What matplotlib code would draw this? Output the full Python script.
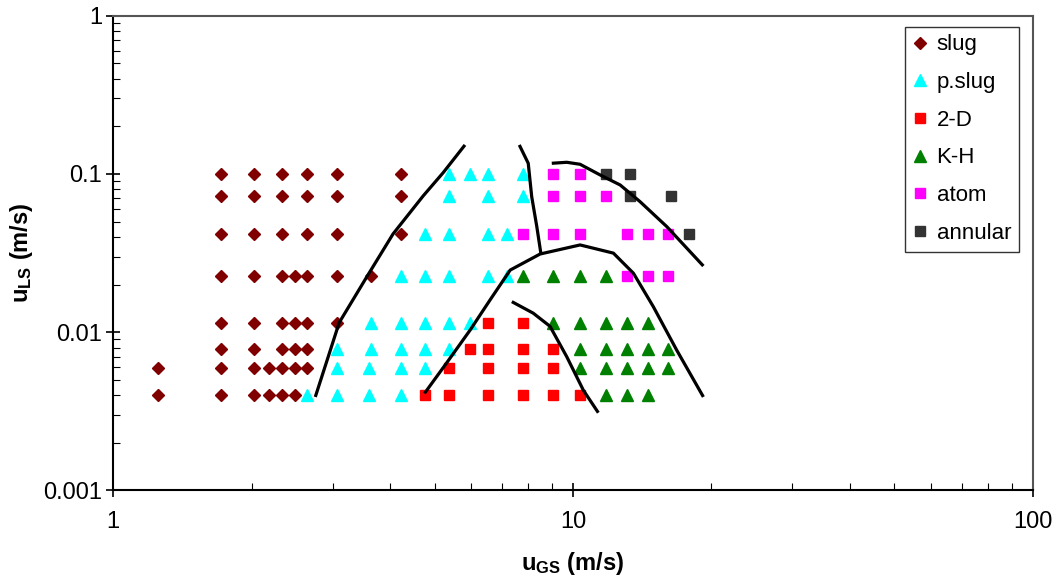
import numpy as np
import matplotlib
matplotlib.use('Agg')
import matplotlib.pyplot as plt
from matplotlib.ticker import FixedLocator, FixedFormatter, LogLocator, NullFormatter

plt.rcParams['font.family'] = ['Liberation Sans', 'DejaVu Sans']
plt.rcParams['mathtext.fontset'] = 'custom'
plt.rcParams['mathtext.rm'] = 'Liberation Sans'
plt.rcParams['mathtext.bf'] = 'Liberation Sans:bold'

# flow regime data: (u_GS, u_LS) pairs in m/s, grouped per u_LS row
slug_x = [1.715, 2.02, 2.33, 2.635, 3.06, 4.23,
          1.715, 2.02, 2.33, 2.635, 3.06, 4.23,
          1.715, 2.02, 2.33, 2.635, 3.06, 4.23,
          1.715, 2.02, 2.33, 2.49, 2.635, 3.06, 3.64,
          1.715, 2.02, 2.33, 2.49, 2.635, 3.06,
          1.715, 2.02, 2.33, 2.49, 2.635,
          1.25, 1.715, 2.02, 2.18, 2.33, 2.49, 2.635,
          1.25, 1.715, 2.02, 2.18, 2.33, 2.49]
slug_y = [0.1] * 6 + [0.073] * 6 + [0.042] * 6 + [0.0225] * 7 + [0.0115] * 6 + \
         [0.0078] * 5 + [0.0059] * 7 + [0.004] * 6

pslug_x = [5.37, 5.97, 6.53, 7.79,
           5.37, 6.53, 7.79,
           4.76, 5.37, 6.53, 7.19,
           4.23, 4.76, 5.37, 6.53, 7.19,
           3.64, 4.23, 4.76, 5.37, 5.97,
           3.06, 3.64, 4.23, 4.76, 5.37,
           3.06, 3.6, 4.23, 4.76,
           2.635, 3.06, 3.6, 4.23]
pslug_y = [0.1] * 4 + [0.073] * 3 + [0.042] * 4 + [0.0225] * 5 + [0.0115] * 5 + \
          [0.0078] * 5 + [0.0059] * 4 + [0.004] * 4

twod_x = [6.53, 7.79,
          5.97, 6.53, 7.79, 9.05,
          5.37, 6.53, 7.79, 9.05,
          4.76, 5.37, 6.53, 7.79, 9.05, 10.38]
twod_y = [0.0115] * 2 + [0.0078] * 4 + [0.0059] * 4 + [0.004] * 6

kh_x = [7.79, 9.05, 10.38, 11.8,
        9.05, 10.38, 11.8, 13.08, 14.59,
        10.38, 11.8, 13.08, 14.59, 16.13,
        10.38, 11.8, 13.08, 14.59, 16.13,
        11.8, 13.08, 14.59]
kh_y = [0.0225] * 4 + [0.0115] * 5 + [0.0078] * 5 + [0.0059] * 5 + [0.004] * 3

atom_x = [9.05, 10.38,
          9.05, 10.38, 11.8,
          7.79, 9.05, 10.38, 13.08, 14.59, 16.13,
          13.08, 14.59, 16.13]
atom_y = [0.1] * 2 + [0.073] * 3 + [0.042] * 6 + [0.0225] * 3

annular_x = [11.8, 13.31, 13.31, 16.34, 17.85]
annular_y = [0.1, 0.1, 0.073, 0.073, 0.042]

# hand-drawn transition boundaries
b1_x = [2.75, 2.92, 3.10, 3.56, 4.06, 4.72, 5.22, 5.82]
b1_y = [0.0039, 0.0067, 0.0115, 0.0224, 0.0418, 0.0726, 0.102, 0.1525]
b2_x = [7.64, 7.99, 8.13, 8.34, 8.51]
b2_y = [0.1525, 0.1168, 0.0719, 0.0465, 0.0316]
b3_x = [4.75, 5.31, 5.97, 6.60, 7.30, 8.48, 10.36, 12.24, 13.53, 14.95, 16.81, 19.21]
b3_y = [0.0041, 0.0064, 0.0103, 0.016, 0.0247, 0.0312, 0.0356, 0.0316, 0.0236, 0.0145, 0.0077, 0.0039]
b4_x = [7.36, 8.19, 8.91, 9.69, 10.53, 11.35]
b4_y = [0.0156, 0.0132, 0.0109, 0.0070, 0.0043, 0.0031]
b5_x = [8.99, 9.69, 10.36, 11.45, 12.66, 13.99, 15.99, 19.21]
b5_y = [0.1168, 0.1185, 0.1151, 0.0986, 0.0852, 0.0668, 0.0465, 0.0262]

fig = plt.figure(figsize=(10.56, 5.81), dpi=100)
ax = fig.add_axes([0.1073, 0.1558, 0.8707, 0.8172])

for bx, by in [(b1_x, b1_y), (b2_x, b2_y), (b3_x, b3_y), (b4_x, b4_y), (b5_x, b5_y)]:
    ax.plot(bx, by, color='black', linewidth=2.3, zorder=3, solid_capstyle='butt')

ax.plot(slug_x, slug_y, 'D', color='#800000', markersize=6, label='slug', zorder=2)
ax.plot(pslug_x, pslug_y, '^', color='#00FFFF', markersize=8, label='p.slug', zorder=2)
ax.plot(twod_x, twod_y, 's', color='#FF0000', markersize=6.5, label='2-D', zorder=2)
ax.plot(kh_x, kh_y, '^', color='#008000', markersize=8, label='K-H', zorder=2)
ax.plot(atom_x, atom_y, 's', color='#FF00FF', markersize=6.5, label='atom', zorder=2)
ax.plot(annular_x, annular_y, 's', color='#333333', markersize=6.5, label='annular', zorder=2)

ax.set_xscale('log')
ax.set_yscale('log')
ax.set_xlim(1, 100)
ax.set_ylim(0.001, 1)

ax.xaxis.set_major_locator(FixedLocator([1, 10, 100]))
ax.xaxis.set_major_formatter(FixedFormatter(['1', '10', '100']))
ax.yaxis.set_major_locator(FixedLocator([0.001, 0.01, 0.1, 1]))
ax.yaxis.set_major_formatter(FixedFormatter(['0.001', '0.01', '0.1', '1']))
ax.xaxis.set_minor_locator(LogLocator(base=10, subs=np.arange(2, 10)))
ax.yaxis.set_minor_locator(LogLocator(base=10, subs=np.arange(2, 10)))
ax.xaxis.set_minor_formatter(NullFormatter())
ax.yaxis.set_minor_formatter(NullFormatter())

ax.tick_params(which='major', direction='inout', length=10, width=1.2, labelsize=17, colors='black')
ax.tick_params(axis='x', which='major', pad=10)
ax.tick_params(axis='y', which='major', pad=3)
ax.tick_params(which='minor', direction='in', length=5, width=0.8)
ax.tick_params(top=False, right=False, which='both')

for s in ['left', 'bottom']:
    ax.spines[s].set_color('black')
    ax.spines[s].set_linewidth(1.5)
for s in ['top', 'right']:
    ax.spines[s].set_color('#555555')
    ax.spines[s].set_linewidth(1.5)

ax.set_xlabel(r'$\mathbf{u_{GS}}$ (m/s)', fontsize=17, fontweight='bold', labelpad=12)
ax.set_ylabel(r'$\mathbf{u_{LS}}$ (m/s)', fontsize=17, fontweight='bold', labelpad=6)

leg = ax.legend(loc='upper right', bbox_to_anchor=(0.9848, 0.9768), borderaxespad=0,
                fontsize=16, frameon=True, fancybox=False, edgecolor='black',
                handlelength=0.6, handletextpad=0.45, labelspacing=0.75,
                borderpad=0.35, numpoints=1)
leg.get_frame().set_linewidth(1.0)

fig.savefig('out.png', dpi=100)
